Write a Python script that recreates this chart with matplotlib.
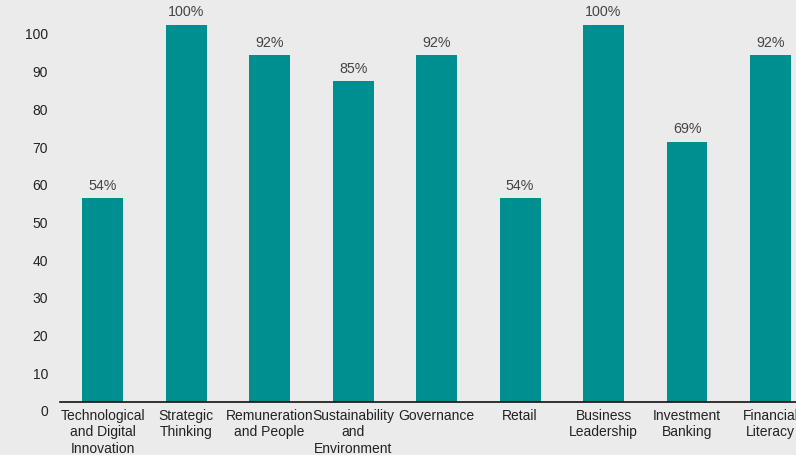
import matplotlib.pyplot as plt
import matplotlib.transforms as mtransforms

# ── Data ──────────────────────────────────────────────────────────────────────
categories = [
    "Technological\nand Digital\nInnovation",
    "Strategic\nThinking",
    "Remuneration\nand People",
    "Sustainability\nand\nEnvironment",
    "Governance",
    "Retail",
    "Business\nLeadership",
    "Investment\nBanking",
    "Financial\nLiteracy",
]
values = [54, 100, 92, 85, 92, 54, 100, 69, 92]
yticks = list(range(0, 101, 10))

bg = "#ebebeb"
teal = "#008f91"

plt.rcParams["font.family"] = ["Liberation Sans", "DejaVu Sans"]

fig = plt.figure(figsize=(7.96, 4.55), dpi=100, facecolor=bg)
ax = fig.add_axes([60 / 796, 1 - 402 / 455, 1 - 60 / 796, 402 / 455])
ax.set_facecolor(bg)

x = range(len(categories))
ax.bar(x, values, width=0.49, color=teal, zorder=2)

for xi, v in zip(x, values):
    ax.annotate(f"{v}%", (xi, v), xytext=(0, 4), textcoords="offset points",
                ha="center", va="bottom", fontsize=10.3, color="#444444")

ax.set_xlim(-0.51, 8.305)
ax.set_ylim(0, 106.6)
ax.set_yticks(yticks)
ax.set_xticks(list(x))
ax.set_xticklabels(categories, fontsize=10, color="#222222", linespacing=1.22)
ax.tick_params(axis="y", length=0, pad=8.5, labelsize=10, labelcolor="#222222")
ax.tick_params(axis="x", length=0, pad=5)

# y labels sit a little below their gridline in the original
shift = mtransforms.ScaledTranslation(0, -9 / 100, fig.dpi_scale_trans)
for lbl in ax.get_yticklabels():
    lbl.set_transform(lbl.get_transform() + shift)

for side in ["top", "right", "left"]:
    ax.spines[side].set_visible(False)
ax.spines["bottom"].set_color("#111111")
ax.spines["bottom"].set_linewidth(1.2)
ax.spines["bottom"].set_zorder(3)

plt.savefig("out.png", dpi=100, facecolor=bg)
